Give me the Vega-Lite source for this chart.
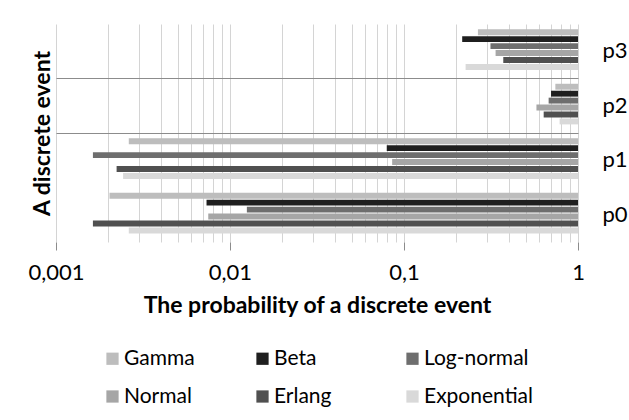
{
  "$schema": "https://vega.github.io/schema/vega-lite/v6.json",
  "width": 522,
  "height": 218,
  "autosize": "none",
  "padding": {"left": 56, "top": 24, "right": 51, "bottom": 178},
  "background": "white",
  "config": {"view": {"stroke": null}, "font": "Lato"},
  "data": {
    "values": [
      {"event": "p3", "dist": "Gamma", "p": 0.266},
      {"event": "p3", "dist": "Beta", "p": 0.216},
      {"event": "p3", "dist": "Log-normal", "p": 0.314},
      {"event": "p3", "dist": "Normal", "p": 0.336},
      {"event": "p3", "dist": "Erlang", "p": 0.372},
      {"event": "p3", "dist": "Exponential", "p": 0.226},
      {"event": "p2", "dist": "Gamma", "p": 0.741},
      {"event": "p2", "dist": "Beta", "p": 0.70},
      {"event": "p2", "dist": "Log-normal", "p": 0.678},
      {"event": "p2", "dist": "Normal", "p": 0.577},
      {"event": "p2", "dist": "Erlang", "p": 0.635},
      {"event": "p2", "dist": "Exponential", "p": 0.784},
      {"event": "p1", "dist": "Gamma", "p": 0.00262},
      {"event": "p1", "dist": "Beta", "p": 0.0796},
      {"event": "p1", "dist": "Log-normal", "p": 0.00163},
      {"event": "p1", "dist": "Normal", "p": 0.0855},
      {"event": "p1", "dist": "Erlang", "p": 0.00223},
      {"event": "p1", "dist": "Exponential", "p": 0.00243},
      {"event": "p0", "dist": "Gamma", "p": 0.00203},
      {"event": "p0", "dist": "Beta", "p": 0.00733},
      {"event": "p0", "dist": "Log-normal", "p": 0.0125},
      {"event": "p0", "dist": "Normal", "p": 0.0075},
      {"event": "p0", "dist": "Erlang", "p": 0.00163},
      {"event": "p0", "dist": "Exponential", "p": 0.00262}
    ]
  },
  "layer": [
    {
      "mark": {"type": "bar"},
      "encoding": {
        "y": {
          "field": "event", "type": "nominal",
          "sort": ["p3", "p2", "p1", "p0"],
          "scale": {"paddingInner": 0, "paddingOuter": 0},
          "axis": {
            "orient": "right", "title": null, "domain": false, "ticks": false,
            "labelFontSize": 22, "labelPadding": 24, "labelColor": "#000", "labelAlign": "left",
            "grid": true, "bandPosition": 0, "gridWidth": 1,
            "gridColor": {"condition": {"test": "datum.value === 'p2' || datum.value === 'p1'", "value": "#8c8c8c"}, "value": "transparent"}
          }
        },
        "yOffset": {
          "field": "dist", "type": "nominal",
          "sort": ["Gamma", "Beta", "Log-normal", "Normal", "Erlang", "Exponential"],
          "scale": {"paddingInner": 0.15, "paddingOuter": 1.2, "align": 0.38}
        },
        "x": {
          "field": "p", "type": "quantitative",
          "scale": {"type": "log", "domain": [0.001, 1], "nice": false},
          "axis": {
            "values": [0.001, 0.002, 0.003, 0.004, 0.005, 0.006, 0.007, 0.008, 0.009, 0.01, 0.02, 0.03, 0.04, 0.05, 0.06, 0.07, 0.08, 0.09, 0.1, 0.2, 0.3, 0.4, 0.5, 0.6, 0.7, 0.8, 0.9, 1],
            "labelExpr": "datum.value == 0.001 ? '0,001' : datum.value == 0.01 ? '0,01' : datum.value == 0.1 ? '0,1' : datum.value == 1 ? '1' : ''",
            "grid": true, "gridColor": "#d4d4d4", "gridWidth": 1,
            "domain": false, "tickColor": "#8c8c8c",
            "tickSize": {"condition": {"test": "datum.value == 0.001 || datum.value == 0.01 || datum.value == 0.1 || datum.value == 1", "value": 8}, "value": 0},
            "labelFontSize": 22, "labelColor": "#000", "labelPadding": 12, "labelFlush": false, "labelOverlap": false,
            "title": "The probability of a discrete event", "titleFontSize": 23, "titleFontWeight": "bold", "titleColor": "#000", "titlePadding": 11
          }
        },
        "x2": {"datum": 1},
        "color": {
          "field": "dist", "type": "nominal",
          "sort": ["Gamma", "Beta", "Log-normal", "Normal", "Erlang", "Exponential"],
          "scale": {
            "domain": ["Gamma", "Beta", "Log-normal", "Normal", "Erlang", "Exponential"],
            "range": ["#bdbdbd", "#1f1f1f", "#6e6e6e", "#a6a6a6", "#505050", "#d9d9d9"]
          },
          "legend": {
            "orient": "none", "legendX": 46, "legendY": 324, "direction": "horizontal", "columns": 3,
            "title": null, "symbolType": "square", "symbolSize": 150, "symbolStrokeWidth": 0,
            "labelFontSize": 21, "labelColor": "#000", "labelOffset": 1,
            "columnPadding": 19, "rowPadding": 16, "gridAlign": "all", "padding": 0
          }
        }
      }
    },
    {
      "mark": {"type": "bar", "opacity": 0},
      "encoding": {
        "y": {
          "field": "event", "type": "nominal",
          "sort": ["p3", "p2", "p1", "p0"],
          "axis": {
            "orient": "left", "title": "A discrete event", "labels": false, "ticks": false, "domain": false, "grid": false,
            "titleFontSize": 23, "titleFontWeight": "bold", "titleColor": "#000", "titlePadding": 2
          }
        },
        "x": {"field": "p", "type": "quantitative"},
        "x2": {"datum": 1}
      }
    }
  ],
  "resolve": {"axis": {"y": "independent"}}
}
